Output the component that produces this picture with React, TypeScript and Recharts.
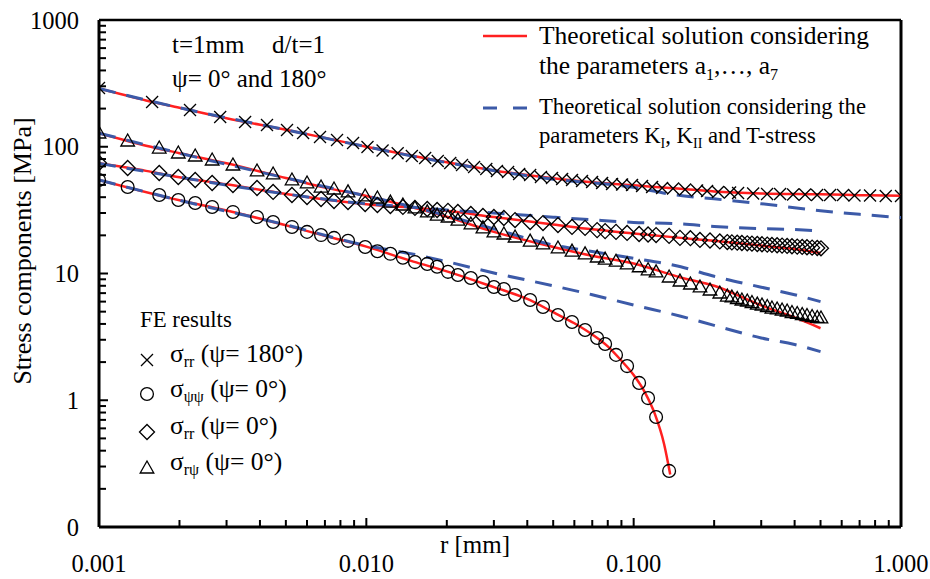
import React from 'react';
import { ComposedChart, Line, Scatter, XAxis, YAxis, ReferenceLine } from 'recharts';

const FONT = '"Liberation Serif", "Times New Roman", serif';
const RED = '#ff2020';
const BLUE = '#3c5aa8';

// axis ticks
const xTicks = [
  0.001, 0.002, 0.003, 0.004, 0.005, 0.006, 0.007, 0.008, 0.009,
  0.01, 0.02, 0.03, 0.04, 0.05, 0.06, 0.07, 0.08, 0.09,
  0.1, 0.2, 0.3, 0.4, 0.5, 0.6, 0.7, 0.8, 0.9, 1,
];
const xMajor = [0.001, 0.01, 0.1, 1];
const xLabels = ['0.001', '0.010', '0.100', '1.000'];
const yTicks = [
  0.1, 0.2, 0.3, 0.4, 0.5, 0.6, 0.7, 0.8, 0.9,
  1, 2, 3, 4, 5, 6, 7, 8, 9,
  10, 20, 30, 40, 50, 60, 70, 80, 90,
  100, 200, 300, 400, 500, 600, 700, 800, 900, 1000,
];
const yMajor = [0.1, 1, 10, 100, 1000];
const yLabels = ['0', '1', '10', '100', '1000'];

// FE node positions, psi = 0 and psi = 180
const rPsi0 = [
  0.001, 0.00128, 0.00168, 0.00198, 0.00229, 0.00265, 0.00317, 0.0039, 0.00448, 0.00527,
  0.006, 0.00677, 0.00757, 0.00854, 0.0099, 0.011, 0.0123, 0.0137, 0.0152, 0.0169,
  0.0184, 0.0202, 0.022, 0.0246, 0.0273, 0.03, 0.0327, 0.036, 0.041, 0.0458,
  0.0521, 0.0588, 0.0658, 0.073, 0.0782, 0.0859, 0.0945, 0.1048, 0.1132, 0.1213,
  0.1357, 0.149, 0.163, 0.177, 0.193, 0.21, 0.224, 0.233, 0.244, 0.254,
  0.266, 0.277, 0.29, 0.302, 0.316, 0.329, 0.344, 0.359, 0.375, 0.391,
  0.409, 0.427, 0.445, 0.465, 0.486, 0.502,
];
const rPsi180 = [
  0.001, 0.00158, 0.00219, 0.00284, 0.00352, 0.00425, 0.00505, 0.0058, 0.00671, 0.00777,
  0.00892, 0.0101, 0.0115, 0.0131, 0.0148, 0.0166, 0.0185, 0.0206, 0.0228, 0.0253,
  0.0281, 0.0308, 0.0339, 0.0373, 0.041, 0.045, 0.0495, 0.054, 0.0588, 0.0641,
  0.0699, 0.0762, 0.083, 0.0905, 0.0986, 0.1075, 0.1172, 0.1277, 0.1404, 0.1557,
  0.1727, 0.1882, 0.2069, 0.2294, 0.2458, 0.2798, 0.3156, 0.353, 0.3948, 0.4377,
  0.4855, 0.543, 0.607, 0.67, 0.766, 0.877, 1.0,
];

// FE results [MPa]
const feRR180 = [
  290.8, 225.5, 195.0, 171.7, 156.8, 148.5, 135.6, 128.4, 119.4, 113.0,
  107.1, 99.5, 93.3, 88.9, 84.5, 81.5, 77.2, 74.4, 71.8, 69.2,
  66.8, 64.4, 63.2, 61.0, 59.8, 57.7, 56.7, 55.7, 54.7, 53.7,
  52.7, 51.8, 50.8, 50.4, 49.9, 49.0, 48.1, 47.3, 46.8, 46.0,
  45.2, 44.8, 44.0, 43.6, 43.2, 42.8, 42.4, 42.4, 42.0, 42.0,
  41.6, 41.6, 41.6, 41.2, 41.2, 40.9, 40.9,
];
const fePsiPsi0 = [
  54.7, 48.1, 41.6, 38.0, 36.0, 33.5, 30.6, 27.9, 25.5, 23.3,
  21.3, 20.1, 19.1, 18.1, 16.2, 15.0, 14.3, 13.3, 12.3, 11.9,
  11.3, 10.3, 9.73, 9.21, 8.57, 7.83, 7.55, 6.77, 6.18, 5.44,
  4.71, 4.14, 3.58, 3.10, 2.78, 2.28, 1.86, 1.37, 1.04, 0.738,
  0.277,
];
const feRR0 = [
  74.4, 68.0, 62.1, 57.7, 54.7, 51.8, 49.9, 47.3, 44.0, 41.6,
  40.1, 38.7, 37.3, 36.6, 35.3, 34.7, 34.1, 33.5, 32.9, 32.3,
  31.7, 31.2, 30.6, 29.5, 28.4, 27.9, 27.4, 26.4, 25.5, 25.0,
  24.1, 23.3, 22.9, 22.0, 21.6, 21.3, 20.9, 20.5, 20.3, 20.1,
  19.8, 19.1, 19.0, 18.4, 18.2, 17.9, 17.7, 17.6, 17.5, 17.4,
  17.3, 17.2, 17.1, 17.0, 16.9, 16.8, 16.7, 16.6, 16.5, 16.4,
  16.3, 16.2, 16.1, 16.0, 15.9, 15.8,
];
const feRPsi0 = [
  128.4, 111.0, 97.7, 89.3, 84.5, 78.6, 71.8, 64.4, 61.0, 54.7,
  51.8, 48.1, 46.4, 44.0, 40.9, 39.4, 36.6, 34.7, 32.9, 30.6,
  28.9, 27.9, 26.4, 24.6, 22.9, 21.3, 20.5, 19.4, 18.0, 17.1,
  15.9, 15.0, 14.3, 13.5, 13.0, 12.5, 11.9, 11.3, 10.7, 10.3,
  9.38, 8.73, 8.26, 7.83, 7.41, 7.02, 6.64, 6.53, 6.35, 6.18,
  6.07, 5.90, 5.74, 5.64, 5.49, 5.34, 5.25, 5.15, 5.06, 4.92,
  4.84, 4.75, 4.66, 4.58, 4.50, 4.46,
];

// theoretical solution a1..a7 (red)
const rRed180 = [0.001, 0.0015, 0.002, 0.003, 0.005, 0.007, 0.01, 0.015, 0.02, 0.03, 0.05, 0.07, 0.1, 0.15, 0.2, 0.3, 0.5, 0.7, 1.0];
const redRR180 = [288, 232, 203, 168, 136, 117.5, 100, 84.5, 75.5, 65, 56.5, 52.5, 49.6, 46.6, 44.4, 42.8, 42.1, 41.5, 41.0];
const rRed0 = [0.001, 0.0015, 0.002, 0.003, 0.005, 0.007, 0.01, 0.015, 0.02, 0.03, 0.05, 0.07, 0.1, 0.15, 0.2, 0.3, 0.4, 0.5];
const redRR0 = [74, 64.5, 57.5, 50.5, 42.4, 38.3, 35.2, 33.0, 31.2, 27.9, 24.4, 22.3, 20.7, 19.1, 18.1, 16.6, 15.6, 14.5];
const redRPsi0 = [128, 102, 89, 74, 56.7, 47.6, 40.9, 33.1, 28.0, 21.3, 16.2, 13.8, 12.0, 9.3, 8.0, 5.6, 4.5, 3.7];
const rRedPsiPsi = [0.001, 0.002, 0.003, 0.005, 0.007, 0.01, 0.015, 0.02, 0.03, 0.04, 0.05, 0.06, 0.07, 0.08, 0.09, 0.1, 0.11, 0.12, 0.13, 0.137];
const redPsiPsi0 = [54.7, 37.8, 31.4, 24.0, 19.8, 16.3, 12.4, 10.4, 7.8, 6.3, 4.95, 4.05, 3.3, 2.66, 2.05, 1.58, 1.16, 0.78, 0.45, 0.26];

// theoretical solution KI, KII, T-stress (blue dashed)
const rDash180 = [0.001, 0.002, 0.005, 0.01, 0.02, 0.05, 0.1, 0.14, 0.2, 0.3, 0.5, 0.7, 1.0];
const dashRR180 = [288, 203, 136, 100, 75, 55.5, 47.8, 42, 38.8, 35.5, 31.3, 29.3, 27.6];
const rDash0 = [0.001, 0.002, 0.005, 0.01, 0.015, 0.02, 0.03, 0.05, 0.07, 0.1, 0.15, 0.2, 0.3, 0.4, 0.5];
const dashPsiPsi0 = [54.7, 37.8, 24.2, 16.6, 14.2, 12.4, 10.1, 8.0, 6.8, 5.64, 4.6, 3.9, 3.1, 2.75, 2.42];
const dashRR0 = [74, 57.5, 42.4, 35.5, 33.3, 31.7, 30.0, 27.8, 26.5, 25.3, 24.6, 23.5, 22.6, 22.2, 21.6];
const dashRPsi0 = [128, 89, 56.7, 40.9, 33.4, 28.6, 22.5, 16.8, 14.9, 13.2, 11.3, 9.5, 7.8, 6.8, 6.0];

const pts = (rs: number[], vs: number[]) => vs.map((v, i) => ({ r: rs[i], v }));

const XMark = ({ cx, cy }: any) => (
  <path d={`M${cx - 6},${cy - 6}L${cx + 6},${cy + 6}M${cx - 6},${cy + 6}L${cx + 6},${cy - 6}`} stroke="#000" strokeWidth={1.3} fill="none" />
);
const OMark = ({ cx, cy }: any) => <circle cx={cx} cy={cy} r={6.4} stroke="#000" strokeWidth={1.3} fill="none" />;
const DMark = ({ cx, cy }: any) => (
  <path d={`M${cx - 7.5},${cy}L${cx},${cy - 7.5}L${cx + 7.5},${cy}L${cx},${cy + 7.5}Z`} stroke="#000" strokeWidth={1.3} fill="none" />
);
const TMark = ({ cx, cy }: any) => (
  <path d={`M${cx - 6.8},${cy + 5}L${cx},${cy - 7}L${cx + 6.8},${cy + 5}Z`} stroke="#000" strokeWidth={1.3} fill="none" />
);

const XTick = ({ x, y, payload }: any) => {
  const i = xMajor.indexOf(payload.value);
  return (
    <g>
      <line x1={x} x2={x} y1={y} y2={y - (i >= 0 ? 9 : 7)} stroke="#000" strokeWidth={2} />
      {i >= 0 && (
        <text x={x} y={y + 45} textAnchor="middle" fontSize={24.5} style={{ fontFamily: FONT }} fill="#000">
          {xLabels[i]}
        </text>
      )}
    </g>
  );
};

const YTick = ({ x, y, payload }: any) => {
  const i = yMajor.indexOf(payload.value);
  return (
    <g>
      <line x1={x} x2={x + (i >= 0 ? 9 : 7)} y1={y} y2={y} stroke="#000" strokeWidth={2} />
      {i >= 0 && (
        <text x={x - 20} y={y} dy="0.35em" textAnchor="end" fontSize={24.5} style={{ fontFamily: FONT }} fill="#000">
          {yLabels[i]}
        </text>
      )}
    </g>
  );
};

const Overlay = () => (
  <svg width={930} height={579} style={{ position: 'absolute', left: 0, top: 0, pointerEvents: 'none', fontFamily: FONT }} fill="#000">
    <text transform="translate(31,251) rotate(-90)" textAnchor="middle" fontSize={26}>Stress components [MPa]</text>
    <text x={475} y={553} textAnchor="middle" fontSize={25}>r [mm]</text>

    <text x={172} y={53} fontSize={25}>t=1mm</text>
    <text x={272} y={53} fontSize={25}>d/t=1</text>
    <text x={172} y={87} fontSize={25}>ψ= 0° and 180°</text>

    <line x1={483} x2={527} y1={36} y2={36} stroke={RED} strokeWidth={2.5} />
    <text x={539} y={44} fontSize={25.5}>Theoretical solution considering</text>
    <text x={539} y={74} fontSize={25.5}>
      the parameters a<tspan dy={6} fontSize={16}>1</tspan>
      <tspan dy={-6}>,…, a</tspan>
      <tspan dy={6} fontSize={16}>7</tspan>
    </text>
    <line x1={483} x2={527} y1={108} y2={108} stroke={BLUE} strokeWidth={3} strokeDasharray="14 16" />
    <text x={539} y={114} fontSize={22.7}>Theoretical solution considering the</text>
    <text x={539} y={143} fontSize={22.7}>
      parameters K<tspan dy={5} fontSize={14}>I</tspan>
      <tspan dy={-5}>, K</tspan>
      <tspan dy={5} fontSize={14}>II</tspan>
      <tspan dy={-5}> and T-stress</tspan>
    </text>

    <text x={140} y={327} fontSize={22.8}>FE results</text>
    <XMark cx={147} cy={360} />
    <text x={170} y={362} fontSize={25.5}>
      σ<tspan dy={5} fontSize={16}>rr</tspan>
      <tspan dy={-5}> (ψ= 180°)</tspan>
    </text>
    <OMark cx={147} cy={394} />
    <text x={170} y={397} fontSize={25.5}>
      σ<tspan dy={5} fontSize={16}>ψψ</tspan>
      <tspan dy={-5}> (ψ= 0°)</tspan>
    </text>
    <DMark cx={147} cy={432} />
    <text x={170} y={434} fontSize={25.5}>
      σ<tspan dy={5} fontSize={16}>rr</tspan>
      <tspan dy={-5}> (ψ= 0°)</tspan>
    </text>
    <TMark cx={147} cy={468} />
    <text x={170} y={470} fontSize={25.5}>
      σ<tspan dy={5} fontSize={16}>rψ</tspan>
      <tspan dy={-5}> (ψ= 0°)</tspan>
    </text>
  </svg>
);

export default function App() {
  const redLines = [
    pts(rRed180, redRR180),
    pts(rRed0, redRR0),
    pts(rRed0, redRPsi0),
    pts(rRedPsiPsi, redPsiPsi0),
  ];
  const blueLines = [
    pts(rDash180, dashRR180),
    pts(rDash0, dashRR0),
    pts(rDash0, dashRPsi0),
    pts(rDash0, dashPsiPsi0),
  ];
  return (
    <div style={{ position: 'absolute', left: 0, top: 0, width: 930, height: 579, background: '#fff' }}>
      <ComposedChart width={930} height={579} margin={{ top: 20, right: 29, left: 0, bottom: 0 }}>
        <XAxis
          type="number"
          dataKey="r"
          scale="log"
          domain={[0.001, 1]}
          allowDataOverflow
          ticks={xTicks}
          interval={0}
          tick={<XTick />}
          tickLine={false}
          tickSize={0}
          tickMargin={0}
          height={52}
          axisLine={{ stroke: '#000', strokeWidth: 3 }}
        />
        <YAxis
          type="number"
          dataKey="v"
          scale="log"
          domain={[0.1, 1000]}
          allowDataOverflow
          ticks={yTicks}
          interval={0}
          tick={<YTick />}
          tickLine={false}
          tickSize={0}
          tickMargin={0}
          width={99}
          axisLine={{ stroke: '#000', strokeWidth: 3 }}
        />
        <ReferenceLine y={1000} stroke="#000" strokeWidth={2.5} />
        <ReferenceLine x={1} stroke="#000" strokeWidth={3} />
        {redLines.map((d, i) => (
          <Line key={`red-${i}`} data={d} dataKey="v" type="monotone" stroke={RED} strokeWidth={2.5} dot={false} isAnimationActive={false} />
        ))}
        {blueLines.map((d, i) => (
          <Line key={`blue-${i}`} data={d} dataKey="v" type="monotone" stroke={BLUE} strokeWidth={3} strokeDasharray="17 11" dot={false} isAnimationActive={false} />
        ))}
        <Scatter data={pts(rPsi180, feRR180)} shape={(p: any) => <XMark {...p} />} isAnimationActive={false} />
        <Scatter data={pts(rPsi0, fePsiPsi0)} shape={(p: any) => <OMark {...p} />} isAnimationActive={false} />
        <Scatter data={pts(rPsi0, feRR0)} shape={(p: any) => <DMark {...p} />} isAnimationActive={false} />
        <Scatter data={pts(rPsi0, feRPsi0)} shape={(p: any) => <TMark {...p} />} isAnimationActive={false} />
      </ComposedChart>
      <Overlay />
    </div>
  );
}
